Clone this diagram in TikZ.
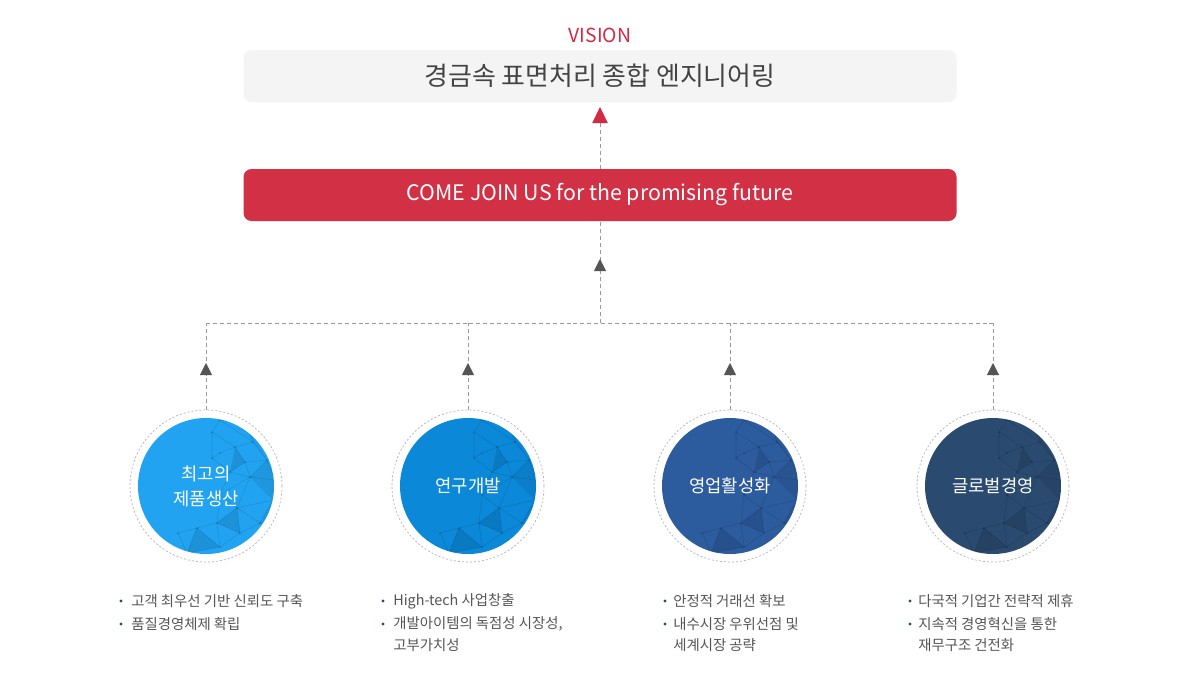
\documentclass[tikz,border=0pt]{standalone}
\usepackage{fontspec}
\setmainfont{Noto Sans CJK KR}
\usetikzlibrary{arrows.meta,calc}
\definecolor{visred}{HTML}{D42A43}
\definecolor{boxred}{HTML}{D13045}
\definecolor{boxgray}{HTML}{F4F4F4}
\definecolor{titlegray}{HTML}{444444}
\definecolor{textgray}{HTML}{555555}
\definecolor{linegray}{HTML}{9A9A9A}
\definecolor{ringgray}{HTML}{B0B0B0}
\definecolor{arrgray}{HTML}{555555}
\definecolor{dotnavy}{HTML}{2D4A70}
\definecolor{cA}{HTML}{21A3F1}
\definecolor{cB}{HTML}{0B88D8}
\definecolor{cC}{HTML}{2C5B9E}
\definecolor{cD}{HTML}{2A4A6F}
\newcommand\facetnet{%
  \coordinate (A) at (14,-66); \coordinate (B) at (6,-54); \coordinate (C) at (29,-39);
  \coordinate (D) at (47,-44); \coordinate (E) at (61,-26); \coordinate (F) at (39,-24);
  \coordinate (G) at (14,-33); \coordinate (H) at (6,-28); \coordinate (I) at (44,-9);
  \coordinate (J) at (69,-6); \coordinate (K) at (24,-14); \coordinate (L) at (14,9);
  \coordinate (M) at (31,22); \coordinate (N) at (11,37); \coordinate (O) at (34,47);
  \coordinate (P) at (54,37); \coordinate (Q) at (67,14); \coordinate (R) at (-9,42);
  \coordinate (S) at (-28,47); \coordinate (T) at (14,61); \coordinate (U) at (-19,67);
  \coordinate (W) at (40,-62); \coordinate (X) at (72,40);
  \fill[black,opacity=0.10] (C) -- (F) -- (K) -- cycle;
  \fill[black,opacity=0.10] (M) -- (N) -- (O) -- cycle;
  \fill[black,opacity=0.10] (R) -- (U) -- (T) -- cycle;
  \fill[black,opacity=0.07] (E) -- (J) -- (Q) -- (I) -- cycle;
  \fill[black,opacity=0.06] (P) -- (Q) -- (X) -- cycle;
  \fill[black,opacity=0.05] (D) -- (W) -- (E) -- cycle;
  \draw[black,opacity=0.13,line width=0.4pt]
    (A) -- (B) -- (H) -- (G) -- (C) -- (D) -- (E) -- (J)
    (A) -- (D) (A) -- (W) -- (D) (B) -- (C) (C) -- (F) -- (K) -- (H)
    (F) -- (I) -- (E) (F) -- (E) (I) -- (J) (K) -- (I) (K) -- (L) -- (I)
    (L) -- (M) -- (I) (M) -- (Q) -- (J) (M) -- (P) -- (Q) (M) -- (O) -- (P)
    (N) -- (M) (N) -- (O) (N) -- (L) (R) -- (N) (S) -- (R) (S) -- (U) -- (T)
    (T) -- (O) (N) -- (T) (R) -- (T) (R) -- (U) (P) -- (X) -- (Q);
  \foreach \p in {A,B,C,D,E,F,G,H,I,J,K,L,M,N,O,P,Q,R,S,T}
    \fill[black,opacity=0.2] (\p) circle (1);
}
\tikzset{
  x=0.75pt, y=-0.75pt,
  wide/.style={rounded corners=6pt, minimum width=534.75pt, minimum height=39pt, inner sep=0pt},
  goalbox/.style={wide, fill=boxgray, text=titlegray, font=\fontsize{19.4pt}{22pt}\selectfont},
  joinbox/.style={wide, fill=boxred, text=white, font=\fontsize{16pt}{20pt}\selectfont},
  dline/.style={draw=linegray, line width=0.75pt, dash pattern=on 3pt off 2.2pt},
  garrow/.style={dline, -{Triangle[length=9pt,width=9pt,fill=arrgray,color=arrgray]}},
  rarrow/.style={dline, -{Triangle[length=12pt,width=11.5pt,fill=visred,color=visred]}},
  ring/.style={circle, minimum size=114pt, inner sep=0pt, draw=ringgray, line width=0.5pt, dash pattern=on 1.5pt off 1.5pt},
  disc/.style={circle, minimum size=102pt, inner sep=0pt, text=white, align=center,
    font=\fontsize{13.3pt}{18.75pt}\selectfont},
  item/.style={anchor=west, inner sep=0pt, text=textgray, font=\fontsize{10.8pt}{12pt}\selectfont},
  bdot/.style={fill=dotnavy}
}
\begin{document}
\begin{tikzpicture}
\useasboundingbox (0,0) rectangle (1200,694);
\fill[white] (0,0) rectangle (1200,694);

% top
\node[text=visred, font=\fontsize{14.5pt}{16pt}\selectfont, inner sep=0pt] (vision) at (600,35) {VISION};
\node[goalbox] (goal) at (600,76) {경금속 표면처리 종합 엔지니어링};
\node[joinbox] (join) at (600,195) {COME JOIN US for the promising future};

\coordinate (redtip) at (600,107);
\draw[rarrow] (join.north) -- (redtip);

% hub
\coordinate (hub) at (600,323);
\coordinate (hubtip) at (600,259);
\draw[dline] (hub) -- (join.south);
\draw[garrow] (hub) -- (hubtip);

% circles
\foreach \i/\x/\col in {1/206/cA,2/468/cB,3/730/cC,4/993/cD}{
  \node[ring] (r\i) at (\x,486) {};
  \fill[\col] (\x,486) circle (68);
  \begin{scope}
    \clip (\x,486) circle (68);
    \begin{scope}[shift={(\x,486)}]
      \facetnet
    \end{scope}
  \end{scope}
  \coordinate (j\i) at (\x,323);
  \coordinate (t\i) at (\x,363);
  \draw[dline] (r\i.north) -- (j\i);
  \draw[garrow] (r\i.north) -- (t\i);
}
\draw[dline] (j1) -- (j4);

\node[disc] (d1) at (206,486) {최고의\\제품생산};
\node[disc] (d2) at (468,486) {연구개발};
\node[disc] (d3) at (730,486) {영업활성화};
\node[disc] (d4) at (993,486) {글로벌경영};

% bullet lists
\fill[bdot] (121,601) circle (1.6);
\node[item] (l1a) at (131,601) {고객 최우선 기반 신뢰도 구축};
\fill[bdot] (121,624) circle (1.6);
\node[item] (l1b) at (131,624) {품질경영체제 확립};

\fill[bdot] (383,601) circle (1.6);
\node[item] (l2a) at (393,601) {High-tech 사업창출};
\fill[bdot] (383,624) circle (1.6);
\node[item] (l2b) at (393,624) {개발아이템의 독점성 시장성,};
\node[item] (l2c) at (393,645) {고부가치성};

\fill[bdot] (665,601) circle (1.6);
\node[item] (l3a) at (673,601) {안정적 거래선 확보};
\fill[bdot] (665,624) circle (1.6);
\node[item] (l3b) at (673,624) {내수시장 우위선점 및};
\node[item] (l3c) at (673,645) {세계시장 공략};

\fill[bdot] (910,601) circle (1.6);
\node[item] (l4a) at (918,601) {다국적 기업간 전략적 제휴};
\fill[bdot] (910,624) circle (1.6);
\node[item] (l4b) at (918,624) {지속적 경영혁신을 통한};
\node[item] (l4c) at (918,645) {재무구조 건전화};
\end{tikzpicture}
\end{document}
